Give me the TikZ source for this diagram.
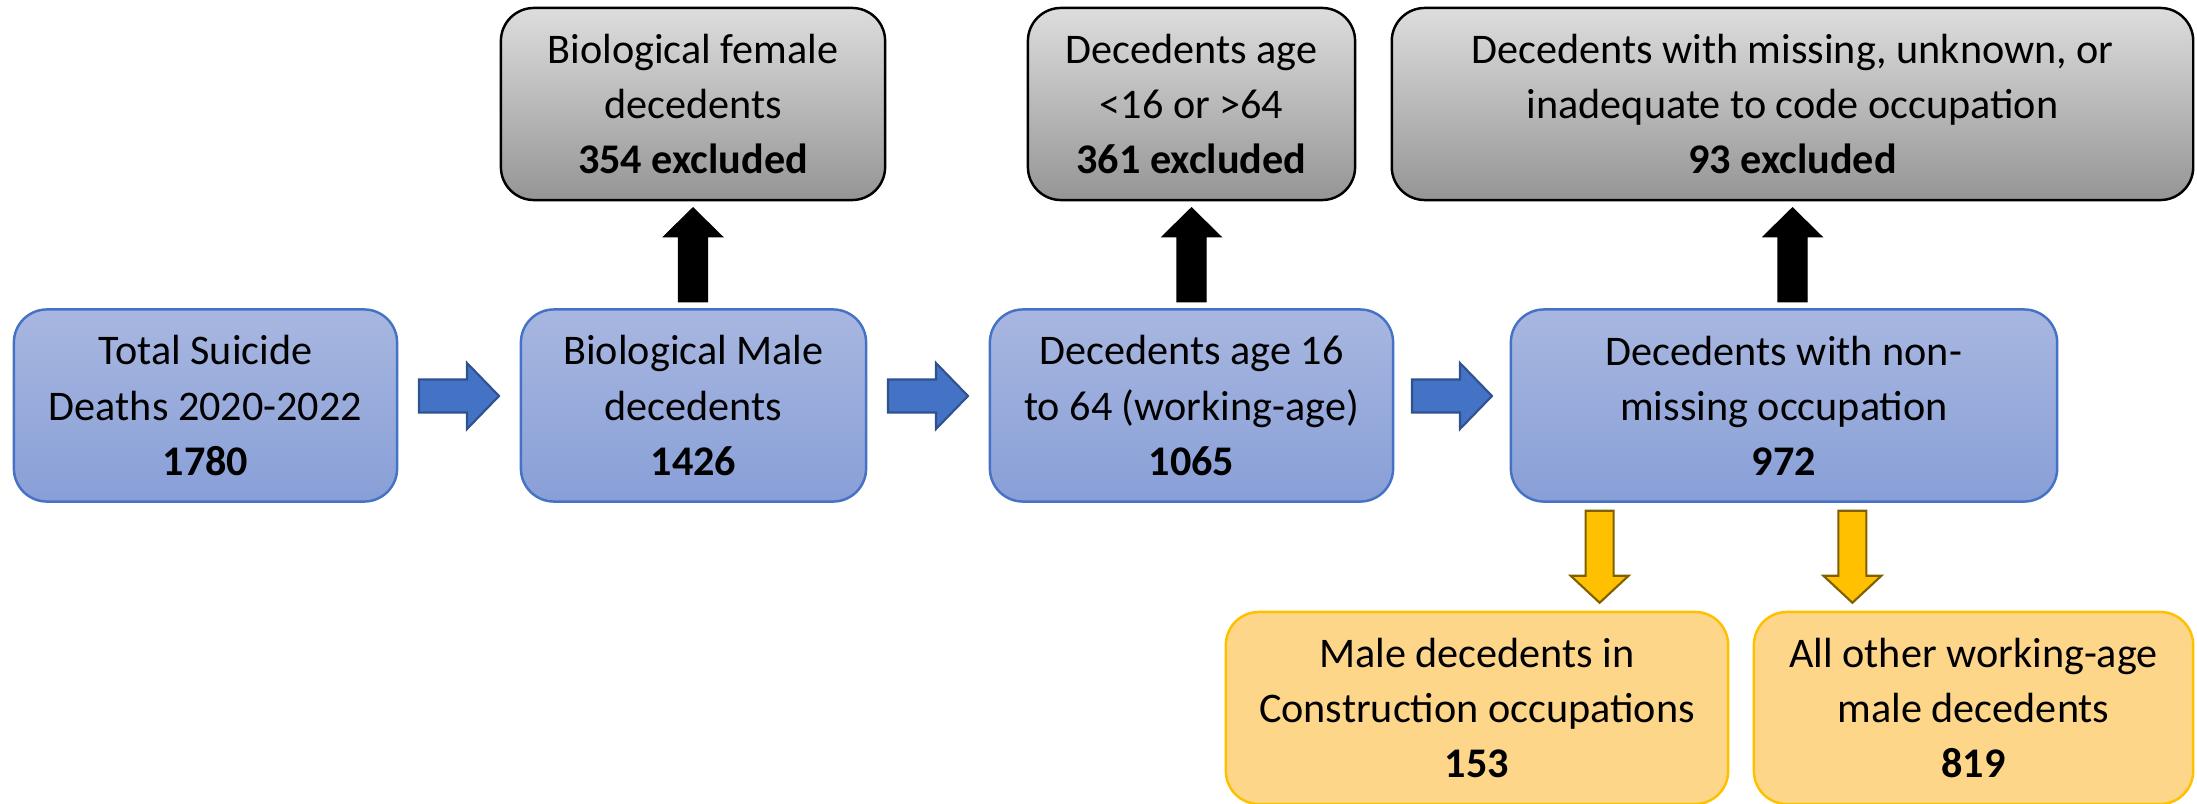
\documentclass[tikz,border=0pt]{standalone}
\usepackage{fontspec}
\setmainfont{Carlito}
\usetikzlibrary{calc}
\definecolor{bluetop}{HTML}{A8B7E0}
\definecolor{bluebot}{HTML}{889FD7}
\definecolor{blueline}{HTML}{4472C4}
\definecolor{bluearrow}{HTML}{4472C4}
\definecolor{bluearrowline}{HTML}{2F528F}
\definecolor{graytop}{HTML}{DDDDDD}
\definecolor{graybot}{HTML}{959595}
\definecolor{yelfill}{HTML}{FED68A}
\definecolor{yelline}{HTML}{FFC000}
\definecolor{yelarrow}{HTML}{FFC000}
\definecolor{yelarrowline}{HTML}{7F6000}
\tikzset{
  boxbase/.style={rounded corners=0.33cm, align=center, inner sep=0pt,
    minimum height=1.92cm, font=\fontsize{12}{15.65}\selectfont},
  bluebox/.style={boxbase, draw=blueline, line width=0.7pt, top color=bluetop, bottom color=bluebot},
  graybox/.style={boxbase, draw=black, line width=0.7pt, top color=graytop, bottom color=graybot},
  yelbox/.style={boxbase, draw=yelline, line width=0.7pt, fill=yelfill},
  bluearr/.style={fill=bluearrow, draw=bluearrowline, line width=0.6pt, line join=miter},
  blackarr/.style={fill=black, draw=black, line width=0.3pt},
  yelarr/.style={fill=yelarrow, draw=yelarrowline, line width=0.6pt, line join=miter}
}
\begin{document}
\begin{tikzpicture}[x=0.01cm, y=-0.01cm]
\useasboundingbox (0,0) rectangle (2197,803);
% main row
\node[bluebox, minimum width=3.83cm] (b1) at (205.5,405.5) {Total Suicide\\Deaths 2020-2022\\\textbf{1780}};
\node[bluebox, minimum width=3.45cm] (b2) at (693.5,405.5) {Biological Male\\decedents\\\textbf{1426}};
\node[bluebox, minimum width=4.03cm] (b3) at (1191.5,405.5) {Decedents age 16\\to 64 (working-age)\\\textbf{1065}};
\node[bluebox, minimum width=5.46cm] (b4) at (1784,405.5) {Decedents with non-\\missing occupation\\\textbf{972}};
% excluded row
\node[graybox, minimum width=3.84cm] (g1) at (693,104) {Biological female\\decedents\\\textbf{354 excluded}};
\node[graybox, minimum width=3.27cm] (g2) at (1191.5,104) {Decedents age\\<16 or >64\\\textbf{361 excluded}};
\node[graybox, minimum width=8.01cm] (g3) at (1792.5,104) {Decedents with missing, unknown, or\\inadequate to code occupation\\\textbf{93 excluded}};
% outcome row
\node[yelbox, minimum width=5.02cm] (y1) at (1477,708) {Male decedents in\\Construction occupations\\\textbf{153}};
\node[yelbox, minimum width=4.39cm] (y2) at (1973.5,708) {All other working-age\\male decedents\\\textbf{819}};
% right arrows
\foreach \a/\b/\n in {b1/b2/r1, b2/b3/r2, b3/b4/r3}{
  \path ($(\a.east)!0.5!(\b.west)$) ++(0,-9.5) coordinate (\n);
  \draw[bluearr] (\n) ++(-40,-16.5) -- ++(48,0) -- ++(0,-16.5) -- ++(32,33)
     -- ++(-32,33) -- ++(0,-16.5) -- ++(-48,0) -- cycle;
}
% up arrows
\foreach \g/\b/\n in {g1/b2/u1, g2/b3/u2, g3/b4/u3}{
  \path ($(\g.south)!0.5!(\g.south |- \b.north)$) coordinate (\n);
  \draw[blackarr] (\n) ++(-14.5,47) -- ++(0,-65) -- ++(-15,0) -- ++(29.5,-29)
     -- ++(29.5,29) -- ++(-15,0) -- ++(0,65) -- cycle;
}
% down arrows
\path ($(b4.south west)!0.5!(b4.south west |- y1.north)$) ++(90,0) coordinate (d1);
\path ($(b4.south east)!0.5!(b4.south east |- y2.north)$) ++(-206,0) coordinate (d2);
\foreach \n in {d1,d2}{
  \draw[yelarr] (\n) ++(-14,-46) -- ++(0,65) -- ++(-15,0) -- ++(29,27)
     -- ++(29,-27) -- ++(-15,0) -- ++(0,-65) -- cycle;
}
\end{tikzpicture}
\end{document}
